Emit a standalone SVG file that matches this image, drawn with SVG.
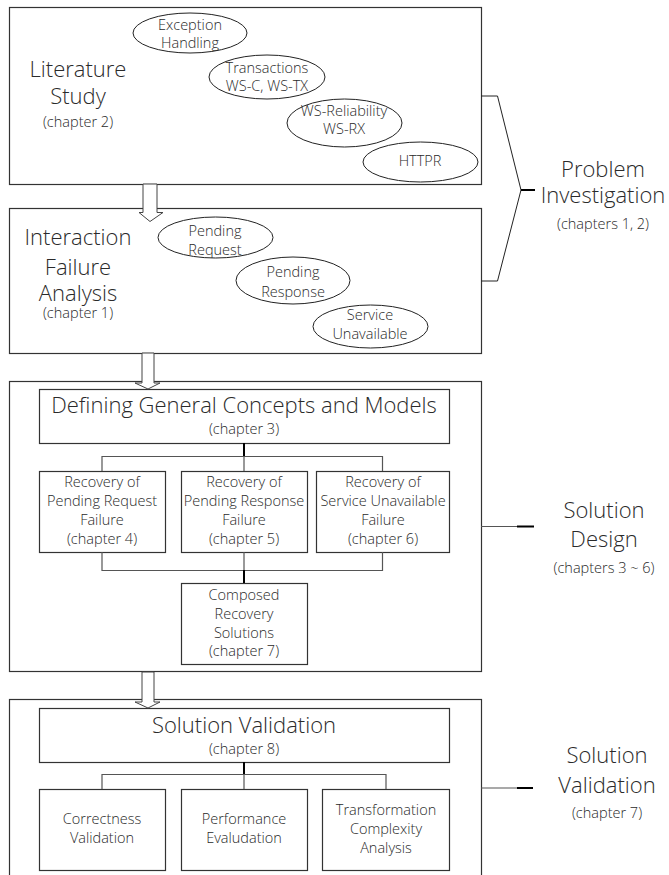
<svg xmlns="http://www.w3.org/2000/svg" width="669" height="875" viewBox="0 0 669 875">
<style>
text{font-family:"Open Sans","Liberation Sans",sans-serif;font-weight:300;fill:#2a2a2a;text-anchor:middle}
.big{font-size:22px}
.sm{font-size:14.5px}
.ch{font-size:14.5px}
.box{fill:#fff;stroke:#333;stroke-width:1.2}
.inner{fill:#fff;stroke:#333;stroke-width:1.2}
.ell{fill:#fff;stroke:#222;stroke-width:1}
.ln{fill:none;stroke:#555;stroke-width:1.2}
.thick{fill:none;stroke:#000;stroke-width:2}
.arrow{fill:#fff;stroke:#444;stroke-width:1}
</style>
<rect width="669" height="875" fill="#fff"/>

<g id="literature-study">
<rect class="box" x="9.5" y="7.5" width="472" height="177"/>
<text class="big" x="78" y="77">Literature</text>
<text class="big" x="78" y="104">Study</text>
<text class="ch" x="78" y="127">(chapter 2)</text>
</g>
<g id="exception-handling">
<ellipse class="ell" cx="190" cy="33" rx="57" ry="20"/>
<text class="sm" x="190" y="29.5">Exception</text>
<text class="sm" x="190" y="48">Handling</text>
</g>
<g id="transactions">
<ellipse class="ell" cx="267" cy="77" rx="58" ry="22"/>
<text class="sm" x="267" y="73">Transactions</text>
<text class="sm" x="267" y="91">WS-C, WS-TX</text>
</g>
<g id="ws-reliability">
<ellipse class="ell" cx="344.5" cy="123" rx="57.5" ry="24"/>
<text class="sm" x="344" y="116">WS-Reliability</text>
<text class="sm" x="344" y="134">WS-RX</text>
</g>
<g id="httpr">
<ellipse class="ell" cx="420.5" cy="162" rx="57.5" ry="20"/>
<text class="sm" x="420" y="166">HTTPR</text>
</g>

<g id="interaction-failure-analysis">
<rect class="box" x="9.5" y="208.5" width="472" height="145"/>
<text class="big" x="78" y="245">Interaction</text>
<text class="big" x="78" y="275">Failure</text>
<text class="big" x="78" y="301">Analysis</text>
<text class="ch" x="78" y="318">(chapter 1)</text>
</g>
<g id="pending-request">
<ellipse class="ell" cx="215.5" cy="237.5" rx="57.5" ry="20.5"/>
<text class="sm" x="215" y="236">Pending</text>
<text class="sm" x="215" y="255">Request</text>
</g>
<g id="pending-response">
<ellipse class="ell" cx="293" cy="280.5" rx="57" ry="23.5"/>
<text class="sm" x="293" y="277">Pending</text>
<text class="sm" x="293" y="297">Response</text>
</g>
<g id="service-unavailable">
<ellipse class="ell" cx="370.5" cy="326.5" rx="57.5" ry="21.5"/>
<text class="sm" x="370" y="320">Service</text>
<text class="sm" x="370" y="339">Unavailable</text>
</g>

<g id="solution-design-box">
<rect class="box" x="9.5" y="381.5" width="472" height="290"/>
</g>
<g id="defining-concepts">
<rect class="inner" x="39.5" y="389.5" width="410" height="54"/>
<text class="big" x="244" y="413">Defining General Concepts and Models</text>
<text class="ch" x="244" y="434">(chapter 3)</text>
</g>
<g id="recovery-pending-request">
<rect class="inner" x="39.5" y="471.5" width="126" height="81"/>
<text class="sm" x="102" y="487">Recovery of</text>
<text class="sm" x="102" y="506">Pending Request</text>
<text class="sm" x="102" y="525">Failure</text>
<text class="sm" x="102" y="544">(chapter 4)</text>
</g>
<g id="recovery-pending-response">
<rect class="inner" x="181.5" y="471.5" width="126" height="81"/>
<text class="sm" x="244" y="487">Recovery of</text>
<text class="sm" x="244" y="506">Pending Response</text>
<text class="sm" x="244" y="525">Failure</text>
<text class="sm" x="244" y="544">(chapter 5)</text>
</g>
<g id="recovery-service-unavailable">
<rect class="inner" x="316.5" y="471.5" width="133" height="81"/>
<text class="sm" x="383" y="487">Recovery of</text>
<text class="sm" x="383" y="506">Service Unavailable</text>
<text class="sm" x="383" y="525">Failure</text>
<text class="sm" x="383" y="544">(chapter 6)</text>
</g>
<g id="composed-recovery">
<rect class="inner" x="181.5" y="583.5" width="126" height="81"/>
<text class="sm" x="244" y="600">Composed</text>
<text class="sm" x="244" y="619">Recovery</text>
<text class="sm" x="244" y="638">Solutions</text>
<text class="sm" x="244" y="656">(chapter 7)</text>
</g>

<g id="solution-validation-box">
<rect class="box" x="9.5" y="699.5" width="472" height="190"/>
</g>
<g id="solution-validation">
<rect class="inner" x="39.5" y="708.5" width="410" height="54"/>
<text class="big" x="244" y="733">Solution Validation</text>
<text class="ch" x="244" y="754">(chapter 8)</text>
</g>
<g id="correctness-validation">
<rect class="inner" x="39.5" y="789.5" width="126" height="81"/>
<text class="sm" x="102" y="824">Correctness</text>
<text class="sm" x="102" y="843">Validation</text>
</g>
<g id="performance-evaluation">
<rect class="inner" x="181.5" y="789.5" width="126" height="81"/>
<text class="sm" x="244" y="824">Performance</text>
<text class="sm" x="244" y="843">Evaludation</text>
</g>
<g id="transformation-complexity">
<rect class="inner" x="322.5" y="789.5" width="127" height="81"/>
<text class="sm" x="386" y="815">Transformation</text>
<text class="sm" x="386" y="834">Complexity</text>
<text class="sm" x="386" y="853">Analysis</text>
</g>

<g id="phase-labels">
<text class="big" x="603" y="177">Problem</text>
<text class="big" x="603" y="203">Investigation</text>
<text class="ch" x="603" y="229">(chapters 1, 2)</text>
<text class="big" x="604" y="518">Solution</text>
<text class="big" x="604" y="547">Design</text>
<text class="ch" x="604" y="573">(chapters 3 ~ 6)</text>
<text class="big" x="607" y="763">Solution</text>
<text class="big" x="607" y="793">Validation</text>
<text class="ch" x="607" y="818">(chapter 7)</text>
</g>

<g id="connectors">
<polygon class="arrow" points="143,184 143,212.5 139,212.5 150,221.5 163,212.5 157,212.5 157,184"/>
<polygon class="arrow" points="142,353 142,383 135,383 148,389 160,383 154,383 154,353"/>
<polygon class="arrow" points="142,672 142,702 135,702 148,708 160,702 154,702 154,672"/>

<path class="ln" d="M102,471 V456.5 H382.5 V471"/>
<path class="thick" d="M244,443 V456"/>
<path class="ln" d="M244,456 V471"/>
<path class="ln" d="M102,552 V570.5 H382.5 V552"/>
<path class="ln" d="M244,552 V570"/>
<path class="thick" d="M244,570 V583"/>

<path class="thick" d="M244,762 V774"/>
<path class="ln" d="M102,789 V774.5 H386 V789"/>
<path class="ln" d="M244,774 V789"/>

<path d="M481,96 H497.5 L521,190 L497.5,281 H481" fill="none" stroke="#222" stroke-width="1"/>
<path class="thick" d="M521,190 H535"/>
<path class="ln" d="M481,526.5 H517"/>
<path class="thick" d="M517,526.5 H534"/>
<path class="ln" d="M481,788 H517"/>
<path class="thick" d="M517,788 H533"/>
</g>
</svg>
